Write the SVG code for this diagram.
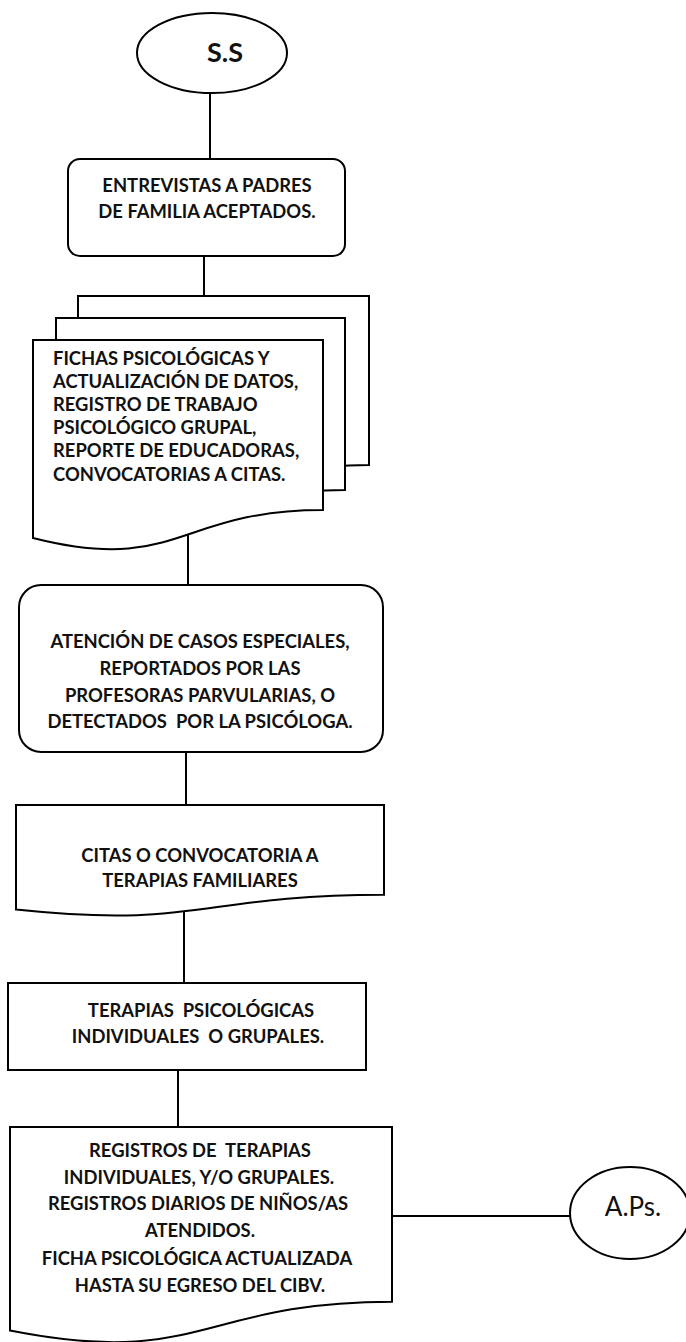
<svg xmlns="http://www.w3.org/2000/svg" width="686" height="1342" viewBox="0 0 686 1342">
  <style>
    .shape { fill: #ffffff; stroke: #000000; stroke-width: 2; }
    .link { fill: none; stroke: #000000; stroke-width: 2; }
    .lbl { font-family: Lato, "Liberation Sans", sans-serif; font-weight: bold; font-size: 18.4px; fill: #111111; }
    .mid { text-anchor: middle; }
    .term { font-family: Lato, "Liberation Sans", sans-serif; fill: #111111; text-anchor: middle; }
  </style>
  <rect width="686" height="1342" fill="#ffffff"/>

  <!-- connectors -->
  <g id="connectors">
    <line class="link" x1="210" y1="93" x2="210" y2="159"/>
    <line class="link" x1="204" y1="256" x2="204" y2="296"/>
    <line class="link" x1="188" y1="534" x2="188" y2="585"/>
    <line class="link" x1="186" y1="752" x2="186" y2="805"/>
    <line class="link" x1="184" y1="911" x2="184" y2="983"/>
    <line class="link" x1="178" y1="1070" x2="178" y2="1127"/>
    <line class="link" x1="392" y1="1216" x2="570" y2="1216"/>
  </g>

  <!-- start terminator -->
  <g id="start">
    <ellipse class="shape" cx="212" cy="53" rx="75" ry="40"/>
    <text class="term" x="225" y="62" font-size="27" font-weight="bold">S.S</text>
  </g>

  <!-- interview step -->
  <g id="entrevistas">
    <rect class="shape" x="68" y="159" width="277" height="97" rx="12" ry="12"/>
    <text class="lbl mid" x="207" y="192">ENTREVISTAS A PADRES</text>
    <text class="lbl mid" x="207" y="218">DE FAMILIA ACEPTADOS.</text>
  </g>

  <!-- stacked documents -->
  <g id="fichas">
    <path class="shape" d="M78 296 H369 V465 C223.5 465 223.5 529.4 78 492.8 Z"/>
    <path class="shape" d="M56 318 H345 V490 C200.5 490 200.5 555.6 56 518.3 Z"/>
    <path class="shape" d="M33 340 H323 V510 C178 510 178 574.8 33 538 Z"/>
    <text class="lbl" x="53" y="365">FICHAS PSICOLÓGICAS Y</text>
    <text class="lbl" x="53" y="388">ACTUALIZACIÓN DE DATOS,</text>
    <text class="lbl" x="53" y="411">REGISTRO DE TRABAJO</text>
    <text class="lbl" x="53" y="434">PSICOLÓGICO GRUPAL,</text>
    <text class="lbl" x="53" y="457">REPORTE DE EDUCADORAS,</text>
    <text class="lbl" x="53" y="481">CONVOCATORIAS A CITAS.</text>
  </g>

  <!-- special cases -->
  <g id="casos">
    <rect class="shape" x="19" y="585" width="364" height="167" rx="22" ry="22"/>
    <text class="lbl mid" x="200" y="648">ATENCIÓN DE CASOS ESPECIALES,</text>
    <text class="lbl mid" x="200" y="675">REPORTADOS POR LAS</text>
    <text class="lbl mid" x="200" y="702">PROFESORAS PARVULARIAS, O</text>
    <text class="lbl mid" x="200" y="728" xml:space="preserve">DETECTADOS  POR LA PSICÓLOGA.</text>
  </g>

  <!-- appointments document -->
  <g id="citas">
    <path class="shape" d="M16 805 H384 V894.8 C200 894.8 200 929 16 909.6 Z"/>
    <text class="lbl mid" x="200" y="862">CITAS O CONVOCATORIA A</text>
    <text class="lbl mid" x="200" y="887">TERAPIAS FAMILIARES</text>
  </g>

  <!-- therapies -->
  <g id="terapias">
    <rect class="shape" x="8" y="983" width="358" height="87"/>
    <text class="lbl mid" x="201" y="1017" xml:space="preserve">TERAPIAS  PSICOLÓGICAS</text>
    <text class="lbl mid" x="198" y="1043" xml:space="preserve">INDIVIDUALES  O GRUPALES.</text>
  </g>

  <!-- records document -->
  <g id="registros">
    <path class="shape" d="M10 1127 H392 V1301.8 C201 1301.8 201 1368.4 10 1330.6 Z"/>
    <text class="lbl mid" x="200" y="1157" xml:space="preserve">REGISTROS DE  TERAPIAS</text>
    <text class="lbl mid" x="199" y="1184">INDIVIDUALES, Y/O GRUPALES.</text>
    <text class="lbl mid" x="198" y="1210">REGISTROS DIARIOS DE NIÑOS/AS</text>
    <text class="lbl mid" x="200" y="1237">ATENDIDOS.</text>
    <text class="lbl mid" x="197" y="1265">FICHA PSICOLÓGICA ACTUALIZADA</text>
    <text class="lbl mid" x="200" y="1292">HASTA SU EGRESO DEL CIBV.</text>
  </g>

  <!-- end terminator -->
  <g id="fin">
    <ellipse class="shape" cx="630" cy="1213" rx="60" ry="46"/>
    <text class="term" x="633" y="1216" font-size="26">A.Ps.</text>
  </g>
</svg>
